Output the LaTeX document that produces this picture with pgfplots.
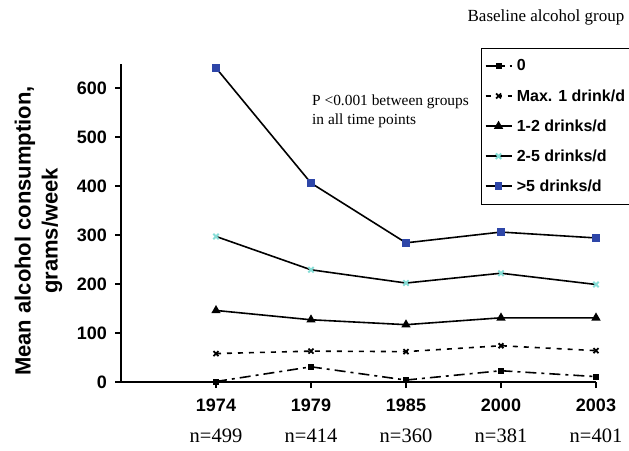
\documentclass[border=0pt]{standalone}
\usepackage{fontspec}
\setmainfont{Liberation Serif}
\setsansfont{Liberation Sans}
\usepackage{pgfplots}
\pgfplotsset{compat=1.18}
\definecolor{dblue}{HTML}{2E46A8}
\definecolor{lcyan}{HTML}{86DDD6}
\begin{document}
\begin{tikzpicture}[x=1pt,y=1pt]
\path[use as bounding box] (-121,-68) rectangle (508,382);
\begin{axis}[
  at={(0,0)}, anchor=origin,
  scale only axis, width=475pt, height=318.5pt,
  xmin=0, xmax=5, ymin=0, ymax=650,
  axis x line=bottom, axis y line=left,
  axis line style={line width=1.5pt,-},
  xtick={1,2,3,4,5},
  xticklabels={
    {{\sffamily\bfseries 1974}\\{\rmfamily\fontsize{20.5}{31}\selectfont n=499}},
    {{\sffamily\bfseries 1979}\\{\rmfamily\fontsize{20.5}{31}\selectfont n=414}},
    {{\sffamily\bfseries 1985}\\{\rmfamily\fontsize{20.5}{31}\selectfont n=360}},
    {{\sffamily\bfseries 2000}\\{\rmfamily\fontsize{20.5}{31}\selectfont n=381}},
    {{\sffamily\bfseries 2003}\\{\rmfamily\fontsize{20.5}{31}\selectfont n=401}}},
  xticklabel style={align=center, anchor=north, inner sep=0pt, font=\fontsize{18}{31}\selectfont, yshift=-11pt},
  ytick={0,100,...,600},
  /pgf/number format/assume math mode=true,
  yticklabel style={font=\sffamily\bfseries\fontsize{18}{20}\selectfont, inner sep=0pt, anchor=east, xshift=-8pt},
  tick align=outside, major tick length=6pt,
  tick style={line width=1.5pt, black},
  legend style={at={(rel axis cs:0.758,1.05)}, anchor=north west,
    draw=black, line width=1.4pt, font=\sffamily\bfseries\fontsize{16}{17}\selectfont,
    row sep=13pt, inner xsep=3pt, inner ysep=9.5pt,
    nodes={inner xsep=4.5pt}},
  legend cell align=left,
  legend image code/.code={\draw[mark repeat=2,mark phase=2,#1] plot coordinates {(0pt,0pt)(13pt,0pt)(26pt,0pt)};},
  every axis plot/.append style={line width=1.6pt},
  clip=false,
]
\addplot[black, dash pattern=on 11pt off 5pt on 3pt off 5pt, mark=square*, mark size=2.2pt, mark options={solid}]
  coordinates {(1,1) (2,31) (3,4) (4,23) (5,11)};
\addlegendentry{0}
\addplot[black, dash pattern=on 5pt off 6pt, mark=x, mark size=3.5pt, mark options={solid, line width=1.8pt}]
  coordinates {(1,58) (2,63) (3,62) (4,74) (5,64)};
\addlegendentry{Max. 1 drink/d}
\addplot[black, mark=triangle*, mark size=3.8pt, mark options={solid}]
  coordinates {(1,146) (2,127) (3,117) (4,131) (5,131)};
\addlegendentry{1-2 drinks/d}
\addplot[black, mark=x, mark size=3.8pt, mark options={solid, draw=lcyan, line width=2pt}]
  coordinates {(1,297) (2,229) (3,202) (4,222) (5,199)};
\addlegendentry{2-5 drinks/d}
\addplot[black, mark=square*, mark size=3pt, mark options={solid, fill=dblue, draw=dblue}]
  coordinates {(1,641) (2,406) (3,284) (4,306) (5,294)};
\addlegendentry{>5 drinks/d}
\end{axis}
\node[rotate=90, align=center, font=\sffamily\bfseries\fontsize{22}{27}\selectfont] at (-82.5,151) {Mean alcohol consumption,\\grams/week};
\node[font=\fontsize{17}{20}\selectfont] at (425,365) {Baseline alcohol group};
\node[anchor=north west, inner sep=0pt, align=left, font=\fontsize{15.4}{19}\selectfont] at (191,287) {P {<}0.001 between groups\\in all time points};
\end{tikzpicture}
\end{document}
